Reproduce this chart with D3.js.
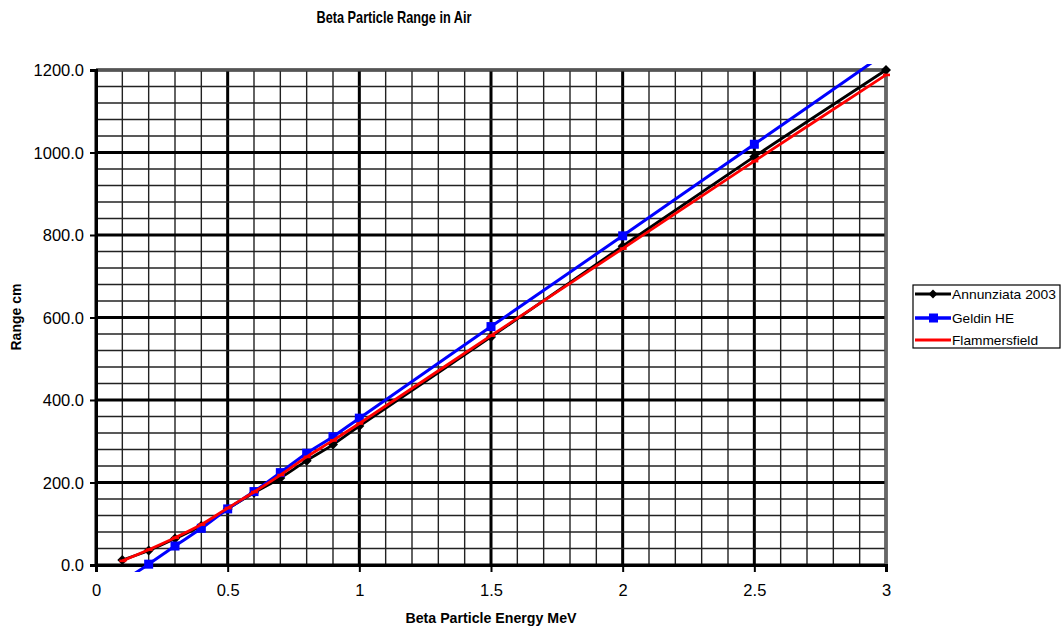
<!DOCTYPE html>
<html><head><meta charset="utf-8">
<script src="https://cdn.jsdelivr.net/npm/d3@7"></script>
<style>
html,body{margin:0;padding:0;background:#fff;}
svg{display:block;font-family:"Liberation Sans",Arial,sans-serif;}
</style></head>
<body>
<svg id="chart" width="1062" height="632"></svg>
<script>
const energy = [0.1,0.2,0.3,0.4,0.5,0.6,0.7,0.8,0.9,1.0,1.5,2.0,2.5,3.0];
const annunziata = [12,35,64,95,136,175,211,253,292,337,553,773,990,1200];
const geldin = [-40,2,46,89,136,178,224,271,311,356,578,798,1020,1242];
const flammersfield = [10,37,66,98,138,177,218,262,302,343,556,767,979,1188];
const seriesNames = ["Annunziata 2003","Geldin HE","Flammersfield"];
const seriesColors = ["#000000","#0000ff","#ff0000"];
const xTicks = [0,0.5,1,1.5,2,2.5,3];
const yTicks = [0,200,400,600,800,1000,1200];

const svg = d3.select("#chart");
const L=96, R=886, T=70, B=565;
const x = d3.scaleLinear().domain([0,3]).range([L,R]);
const y = d3.scaleLinear().domain([0,1200]).range([B,T]);

// grid
const minorX = d3.range(0,31).map(i=>i/10);
const minorY = d3.range(0,31).map(i=>i*40);
const isMajX = d=>Math.abs(d*2-Math.round(d*2))<1e-6;
const g = svg.append("g");
g.selectAll(".vx").data(minorX).enter().append("line")
  .attr("x1",d=>x(d)).attr("x2",d=>x(d)).attr("y1",T).attr("y2",B)
  .attr("stroke",d=>isMajX(d)?"#000":"#222")
  .attr("stroke-width",d=>isMajX(d)?3:1.4);
g.selectAll(".hy").data(minorY).enter().append("line")
  .attr("y1",d=>y(d)).attr("y2",d=>y(d)).attr("x1",L).attr("x2",R)
  .attr("stroke",d=>d%200===0?"#000":"#222")
  .attr("stroke-width",d=>d%200===0?3:1.4);
// border top/right
svg.append("line").attr("x1",L).attr("x2",R+1).attr("y1",T).attr("y2",T).attr("stroke","#555").attr("stroke-width",3);
svg.append("line").attr("x1",R).attr("x2",R).attr("y1",T).attr("y2",B).attr("stroke","#666").attr("stroke-width",3);

// axes
const xAxis = d3.axisBottom(x).tickValues(xTicks).tickFormat(d=>String(d)).tickSize(7).tickPadding(12);
const yAxis = d3.axisLeft(y).tickValues(yTicks).tickFormat(d3.format(".1f")).tickSize(6).tickPadding(6);
const gx = svg.append("g").attr("transform",`translate(0,${B})`).call(xAxis);
const gy = svg.append("g").attr("transform",`translate(${L},0)`).call(yAxis);
[gx,gy].forEach(a=>{
  a.select(".domain").attr("stroke","#000").attr("stroke-width",3);
  a.selectAll(".tick line").attr("stroke","#000").attr("stroke-width",2);
  a.selectAll(".tick text").attr("fill","#000").attr("font-size","16.5px").attr("font-family","Liberation Sans, Arial, sans-serif");
});
gy.selectAll(".tick text").attr("dy","0.36em");

// clip
svg.append("clipPath").attr("id","clipL").append("rect")
  .attr("x",L-6).attr("y",T-6).attr("width",R-L+12).attr("height",B-T+13);

const seriesData = [annunziata, geldin, flammersfield];
const line = d3.line().x(d=>x(d[0])).y(d=>y(d[1])).curve(d3.curveCatmullRom.alpha(0.5));
const widths = [2.8,3,2.8];
const plotG = svg.append("g").attr("clip-path","url(#clipL)");
seriesData.forEach((vals,i)=>{
  const pts = energy.map((e,j)=>[e,vals[j]]);
  plotG.append("path").datum(pts).attr("d",line).attr("fill","none")
    .attr("stroke",seriesColors[i]).attr("stroke-width",widths[i]);
  const inPts = pts.filter(p=>p[1]>=0 && p[1]<=1200);
  if(i===0){
    plotG.selectAll(".m0").data(inPts).enter().append("path")
      .attr("d",d3.symbol(d3.symbolDiamond2,64)())
      .attr("transform",d=>`translate(${x(d[0])},${y(d[1])})`).attr("fill","#000");
  } else if(i===1){
    plotG.selectAll(".m1").data(inPts).enter().append("rect")
      .attr("x",d=>x(d[0])-4.5).attr("y",d=>y(d[1])-4.5).attr("width",9).attr("height",9).attr("fill","#0000ff");
  } else {
    plotG.selectAll(".m2").data(inPts).enter().append("rect")
      .attr("x",d=>x(d[0])-3).attr("y",d=>y(d[1])-1.3).attr("width",7).attr("height",2.6).attr("fill","#ff0000");
  }
});

// titles
svg.append("text").attr("x",394).attr("y",23).attr("text-anchor","middle")
  .attr("font-weight","bold").attr("font-size","16.5px").attr("textLength",155).attr("lengthAdjust","spacingAndGlyphs")
  .text("Beta Particle Range in Air");
svg.append("text").attr("x",491).attr("y",623).attr("text-anchor","middle")
  .attr("font-weight","bold").attr("font-size","15.5px").attr("textLength",171).attr("lengthAdjust","spacingAndGlyphs")
  .text("Beta Particle Energy MeV");
svg.append("text").attr("transform","translate(20.5,317) rotate(-90)").attr("text-anchor","middle")
  .attr("font-weight","bold").attr("font-size","14.5px").attr("textLength",67).attr("lengthAdjust","spacingAndGlyphs")
  .text("Range cm");

// legend
const lg = svg.append("g");
lg.append("rect").attr("x",913).attr("y",285).attr("width",147).attr("height",63)
  .attr("fill","#fff").attr("stroke","#000").attr("stroke-width",1.2);
const ly = [294,318,340];
const textW = [104,62,86];
seriesNames.forEach((n,i)=>{
  lg.append("line").attr("x1",915).attr("x2",951).attr("y1",ly[i]).attr("y2",ly[i])
    .attr("stroke",seriesColors[i]).attr("stroke-width",i===1?3.5:3);
  if(i===0) lg.append("path").attr("d",d3.symbol(d3.symbolDiamond2,50)()).attr("transform",`translate(933,${ly[i]})`).attr("fill","#000");
  if(i===1) lg.append("rect").attr("x",929).attr("y",ly[i]-4.5).attr("width",9).attr("height",9).attr("fill","#0000ff");
  lg.append("text").attr("x",952).attr("y",ly[i]).attr("dy","0.36em").attr("font-size","13px")
    .attr("textLength",textW[i]).attr("lengthAdjust","spacingAndGlyphs").text(n);
});
</script>
</body></html>
